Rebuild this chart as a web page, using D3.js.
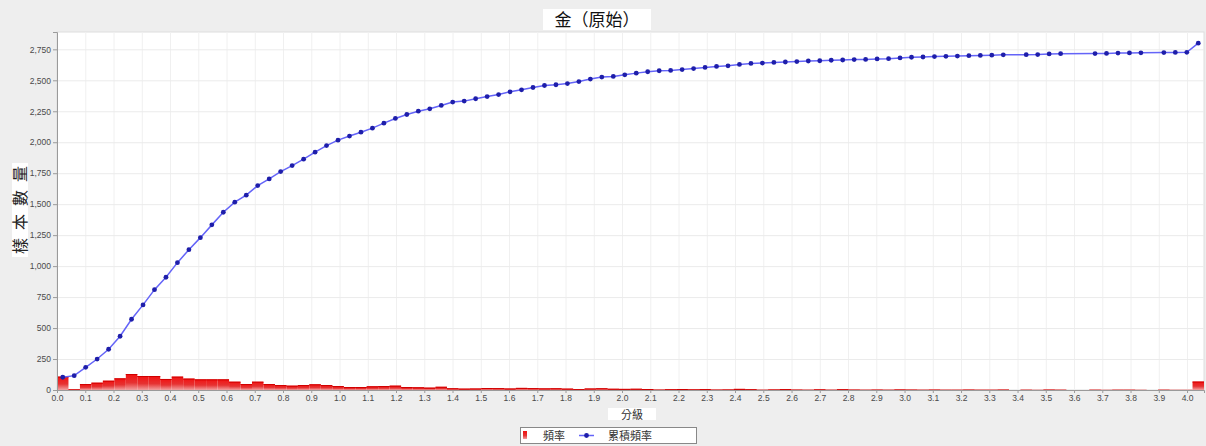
<!DOCTYPE html>
<html>
<head>
<meta charset="utf-8">
<script src="https://cdn.jsdelivr.net/npm/d3@7"></script>
<style>
  html, body { margin: 0; padding: 0; background: #eeeeee; }
  svg { display: block; }
  .tick text { font-family: "Liberation Sans", Arial, sans-serif; font-size: 8.5px; fill: #4a4a4a; }
</style>
</head>
<body>
<svg id="chart" width="1206" height="446"></svg>
<script>
// Histogram of gold assay grades: 100 equal-width classes from 0 to 4.06
const classMin = 0;
const classMax = 4.06;
const classCount = 100;

// Sample count in each class (bars, 頻率)
const frequency = [
  108, 5, 48, 59, 75, 94, 129, 113, 113, 89,
  108, 92, 86, 86, 86, 67, 48, 67, 48, 40,
  35, 40, 46, 40, 32, 24, 24, 30, 32, 35,
  24, 22, 19, 26, 14, 11, 12, 16, 15, 12,
  17, 15, 13, 14, 11, 7, 12, 14, 10, 9,
  10, 8, 3, 6, 8, 5, 7, 3, 4, 9,
  6, 2, 4, 7, 3, 2, 5, 2, 6, 3,
  2, 3, 2, 4, 3, 2, 3, 2, 2, 3,
  2, 2, 3, 0, 2, 1, 3, 2, 0, 0,
  2, 1, 2, 2, 1, 0, 2, 1, 1, 68
];

// Running total per class (line, 累積頻率); empty classes carry no point
const cumulative = [
  103, 116, 183, 250, 329, 434, 571, 687, 810, 910,
  1028, 1133, 1230, 1333, 1435, 1516, 1573, 1650, 1704, 1763,
  1812, 1863, 1920, 1973, 2017, 2050, 2081, 2114, 2154, 2192,
  2224, 2251, 2270, 2297, 2324, 2332, 2351, 2369, 2385, 2407,
  2423, 2442, 2458, 2464, 2474, 2490, 2510, 2526, 2531, 2544,
  2558, 2569, 2577, 2580, 2587, 2595, 2604, 2612, 2617, 2628,
  2636, 2639, 2644, 2648, 2651, 2656, 2658, 2662, 2664, 2667,
  2669, 2673, 2675, 2681, 2686, 2688, 2692, 2694, 2696, 2699,
  2701, 2703, 2706, null, 2707, 2708, 2713, 2715, null, null,
  2716, 2717, 2720, 2721, 2722, null, 2724, 2725, 2726, 2800
];

const xTickValues = [
  0.0, 0.1, 0.2, 0.3, 0.4, 0.5, 0.6, 0.7, 0.8, 0.9,
  1.0, 1.1, 1.2, 1.3, 1.4, 1.5, 1.6, 1.7, 1.8, 1.9,
  2.0, 2.1, 2.2, 2.3, 2.4, 2.5, 2.6, 2.7, 2.8, 2.9,
  3.0, 3.1, 3.2, 3.3, 3.4, 3.5, 3.6, 3.7, 3.8, 3.9, 4.0
];
const yTickValues = [0, 250, 500, 750, 1000, 1250, 1500, 1750, 2000, 2250, 2500, 2750];

const titleText = "金（原始）";
const xLabelText = "分級";
const yLabelText = "樣本數量";
const legendLabels = ["頻率", "累積頻率"];

const W = 1206, H = 446;
const plot = { left: 57, right: 1204, top: 32, bottom: 390 };
const cjk = '"Noto Sans CJK TC", "Noto Sans CJK SC", sans-serif';

const svg = d3.select("#chart");

const x = d3.scaleLinear().domain([classMin, classMax]).range([plot.left, plot.right]);
const y = d3.scaleLinear().domain([0, 2890]).range([plot.bottom, plot.top]);
const classWidth = (classMax - classMin) / classCount;

const classes = frequency.map((f, i) => ({
  lo: classMin + i * classWidth,
  hi: classMin + (i + 1) * classWidth,
  mid: classMin + (i + 0.5) * classWidth,
  f,
  c: cumulative[i]
}));

// background
svg.append("rect").attr("width", W).attr("height", H).attr("fill", "#eeeeee");
svg.append("rect")
  .attr("x", plot.left).attr("y", plot.top)
  .attr("width", plot.right - plot.left).attr("height", plot.bottom - plot.top)
  .attr("fill", "#ffffff").attr("stroke", "#dedede").attr("stroke-width", 1);

// gridlines
const grid = svg.append("g");
grid.selectAll("line.v").data(xTickValues).join("line")
  .attr("x1", d => x(d) + 0.5).attr("x2", d => x(d) + 0.5)
  .attr("y1", plot.top).attr("y2", plot.bottom)
  .attr("stroke", "#f0f0f0").attr("stroke-width", 1);
grid.selectAll("line.h").data(yTickValues).join("line")
  .attr("x1", plot.left).attr("x2", plot.right)
  .attr("y1", d => y(d) + 0.5).attr("y2", d => y(d) + 0.5)
  .attr("stroke", "#ebebeb").attr("stroke-width", 1);

// bar gradient
const defs = svg.append("defs");
const grad = defs.append("linearGradient").attr("id", "barFill")
  .attr("x1", 0).attr("y1", 0).attr("x2", 0).attr("y2", 1);
grad.append("stop").attr("offset", "0%").attr("stop-color", "#f21212");
grad.append("stop").attr("offset", "55%").attr("stop-color", "#e63232");
grad.append("stop").attr("offset", "100%").attr("stop-color", "#f2a0a0");

svg.append("g").selectAll("rect").data(classes.filter(d => d.f > 0)).join("rect")
  .attr("x", d => x(d.lo))
  .attr("width", d => x(d.hi) - x(d.lo))
  .attr("y", d => y(d.f))
  .attr("height", d => y(0) - y(d.f))
  .attr("fill", "url(#barFill)");

// bar top edges
svg.append("g").selectAll("line").data(classes.filter(d => d.f > 0)).join("line")
  .attr("x1", d => x(d.lo)).attr("x2", d => x(d.hi))
  .attr("y1", d => y(d.f) + 0.5).attr("y2", d => y(d.f) + 0.5)
  .attr("stroke", "#d00000").attr("stroke-width", 1);

// cumulative line
const pts = classes.filter(d => d.c != null);
const line = d3.line().x(d => x(d.mid)).y(d => y(d.c));
svg.append("path").datum(pts)
  .attr("d", line)
  .attr("fill", "none")
  .attr("stroke", "#6464f8")
  .attr("stroke-width", 1.5);
svg.append("g").selectAll("circle").data(pts).join("circle")
  .attr("cx", d => x(d.mid)).attr("cy", d => y(d.c))
  .attr("r", 2.4)
  .attr("fill", "#1e1eaa");

// axes
const xAxis = d3.axisBottom(x).tickValues(xTickValues).tickFormat(d3.format(".1f"))
  .tickSize(3).tickPadding(2);
const gx = svg.append("g").attr("transform", `translate(0,${plot.bottom})`).call(xAxis);
gx.select(".domain").attr("stroke", "#9a9a9a");
gx.selectAll(".tick line").attr("stroke", "#9a9a9a");

const yAxis = d3.axisLeft(y).tickValues(yTickValues).tickFormat(d3.format(","))
  .tickSize(4).tickPadding(2);
const gy = svg.append("g").attr("transform", `translate(${plot.left},0)`).call(yAxis);
gy.select(".domain").attr("stroke", "#9a9a9a");
gy.selectAll(".tick line").attr("stroke", "#9a9a9a");

// title
svg.append("rect").attr("x", 543).attr("y", 9).attr("width", 108).attr("height", 21).attr("fill", "#fff");
svg.append("text").attr("x", 597).attr("y", 26).attr("text-anchor", "middle")
  .attr("font-family", cjk).attr("font-size", 17).attr("fill", "#111")
  .text(titleText);

// y-axis title
svg.append("rect").attr("x", 12).attr("y", 163).attr("width", 16).attr("height", 94).attr("fill", "#fff");
svg.append("text")
  .attr("transform", "translate(25.5,210) rotate(-90)")
  .attr("text-anchor", "middle")
  .attr("font-family", cjk).attr("font-size", 16).attr("fill", "#222")
  .attr("textLength", 88).attr("lengthAdjust", "spacing")
  .text(yLabelText);

// x-axis title
svg.append("rect").attr("x", 608).attr("y", 408).attr("width", 48).attr("height", 12).attr("fill", "#fff");
svg.append("text").attr("x", 632).attr("y", 418.5).attr("text-anchor", "middle")
  .attr("font-family", cjk).attr("font-size", 11).attr("fill", "#333")
  .text(xLabelText);

// legend
const lg = svg.append("g");
lg.append("rect").attr("x", 520.5).attr("y", 427.5).attr("width", 176).attr("height", 16)
  .attr("fill", "#fff").attr("stroke", "#888");
lg.append("rect").attr("x", 523).attr("y", 431).attr("width", 4).attr("height", 8).attr("fill", "url(#barFill)");
lg.append("text").attr("x", 543).attr("y", 439.5)
  .attr("font-family", cjk).attr("font-size", 11).attr("fill", "#333").text(legendLabels[0]);
lg.append("line").attr("x1", 579).attr("x2", 594).attr("y1", 435.5).attr("y2", 435.5)
  .attr("stroke", "#6464f8").attr("stroke-width", 1.5);
lg.append("circle").attr("cx", 586.5).attr("cy", 435.5).attr("r", 2.4).attr("fill", "#1e1eaa");
lg.append("text").attr("x", 608).attr("y", 439.5)
  .attr("font-family", cjk).attr("font-size", 11).attr("fill", "#333").text(legendLabels[1]);
</script>
</body>
</html>
